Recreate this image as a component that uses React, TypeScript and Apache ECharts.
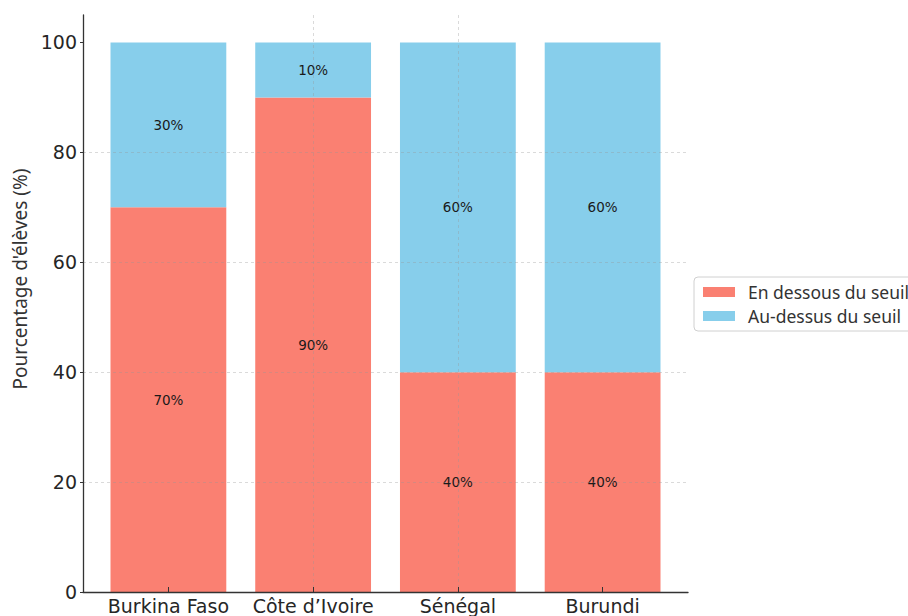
import React, { useEffect, useRef } from "react";
import * as echarts from "echarts";

// Share of pupils below / above the threshold, per country (%)
const countries = ["Burkina Faso", "Côte d’Ivoire", "Sénégal", "Burundi"];
const belowThreshold = [70, 90, 40, 40];
const aboveThreshold = [30, 10, 60, 60];
const yTicks = [0, 20, 40, 60, 80, 100];
const seriesNames = ["En dessous du seuil", "Au-dessus du seuil"];

const positions = countries.map((_, i) => i);

// x range in category units (bars of width 0.8 plus a 5% margin each side)
const X_MIN = -0.59;
const X_MAX = 3.59;
const Y_MAX = 105;

export default function App() {
  const ref = useRef<HTMLDivElement>(null);

  useEffect(() => {
    document.body.style.margin = "0";
    if (!ref.current) return;
    const chart = echarts.init(ref.current, undefined, { renderer: "svg" });

    const width = 908;
    const frameLeft = 83;
    const frameRight = 220;
    const plotWidth = width - frameLeft - frameRight;
    const unit = plotWidth / (X_MAX - X_MIN);
    // inner grid whose category bands line up with integer positions of the frame axis
    const barsLeft = frameLeft + (-0.5 - X_MIN) * unit;
    const barsRight = width - (frameLeft + (countries.length - 0.5 - X_MIN) * unit);

    const tickFont = "DejaVu Sans";
    const gridLine = { show: true, lineStyle: { color: "rgba(150,150,150,0.35)", type: [3, 3] as any, width: 1 } };

    const barLabel = {
      show: true,
      position: "inside" as const,
      fontFamily: tickFont,
      fontSize: 13.5,
      color: "#1a1a1a",
      formatter: (p: any) => `${p.value}%`,
    };

    chart.setOption({
      animation: false,
      backgroundColor: "#ffffff",
      grid: [
        { left: frameLeft, right: frameRight, top: 15, bottom: 24 },
        { left: barsLeft, right: barsRight, top: 15, bottom: 24 },
      ],
      legend: {
        orient: "vertical",
        left: 694,
        top: 277,
        icon: "rect",
        itemWidth: 32,
        itemHeight: 10,
        itemGap: 4,
        padding: [5, 10, 5, 9],
        borderColor: "#d0d0d0",
        borderWidth: 1,
        borderRadius: 4,
        backgroundColor: "#ffffff",
        textStyle: { fontFamily: "Noto Sans", fontSize: 17.5, lineHeight: 20, color: "#333", padding: [0, 0, 0, 8] },
        data: seriesNames,
      },
      xAxis: [
        {
          gridIndex: 0,
          type: "value",
          min: X_MIN,
          max: X_MAX,
          z: 3,
          axisLine: { show: true, onZero: false, lineStyle: { color: "#333", width: 1.3 } },
          axisTick: { show: true, inside: true, length: 5, customValues: positions, lineStyle: { color: "#333" } },
          axisLabel: {
            customValues: positions,
            formatter: (v: number) => countries[Math.round(v)] ?? "",
            fontFamily: tickFont,
            fontSize: 19,
            color: "#262626",
            margin: 4,
          },
          splitLine: { ...gridLine, showMinLine: false, showMaxLine: false },
        },
        {
          gridIndex: 1,
          type: "category",
          data: countries,
          boundaryGap: true,
          show: false,
        },
      ],
      yAxis: [
        {
          gridIndex: 0,
          type: "value",
          min: 0,
          max: Y_MAX,
          interval: 20,
          z: 3,
          name: "Pourcentage d'élèves (%)",
          nameLocation: "middle",
          nameRotate: 90,
          nameGap: 52,
          nameTextStyle: { fontFamily: "Noto Sans", fontSize: 19, color: "#333", padding: [0, 0, 0, 49] },
          axisLine: { show: true, onZero: false, lineStyle: { color: "#333", width: 1.3 } },
          axisTick: { show: true, length: 3, customValues: yTicks, lineStyle: { color: "#333" } },
          axisLabel: {
            customValues: yTicks,
            fontFamily: tickFont,
            fontSize: 19,
            color: "#262626",
            margin: 6,
          },
          splitLine: { ...gridLine, showMaxLine: false },
        },
        {
          gridIndex: 1,
          type: "value",
          min: 0,
          max: Y_MAX,
          show: false,
          splitLine: { show: false },
        },
      ],
      series: [
        {
          name: seriesNames[0],
          type: "bar",
          xAxisIndex: 1,
          yAxisIndex: 1,
          stack: "total",
          barWidth: "80%",
          z: 1,
          itemStyle: { color: "#FA8072" },
          label: barLabel,
          data: belowThreshold,
        },
        {
          name: seriesNames[1],
          type: "bar",
          xAxisIndex: 1,
          yAxisIndex: 1,
          stack: "total",
          barWidth: "80%",
          z: 1,
          itemStyle: { color: "#87CEEB" },
          label: barLabel,
          data: aboveThreshold,
        },
      ],
    });

    return () => chart.dispose();
  }, []);

  return <div ref={ref} style={{ width: 908, height: 616 }} />;
}
